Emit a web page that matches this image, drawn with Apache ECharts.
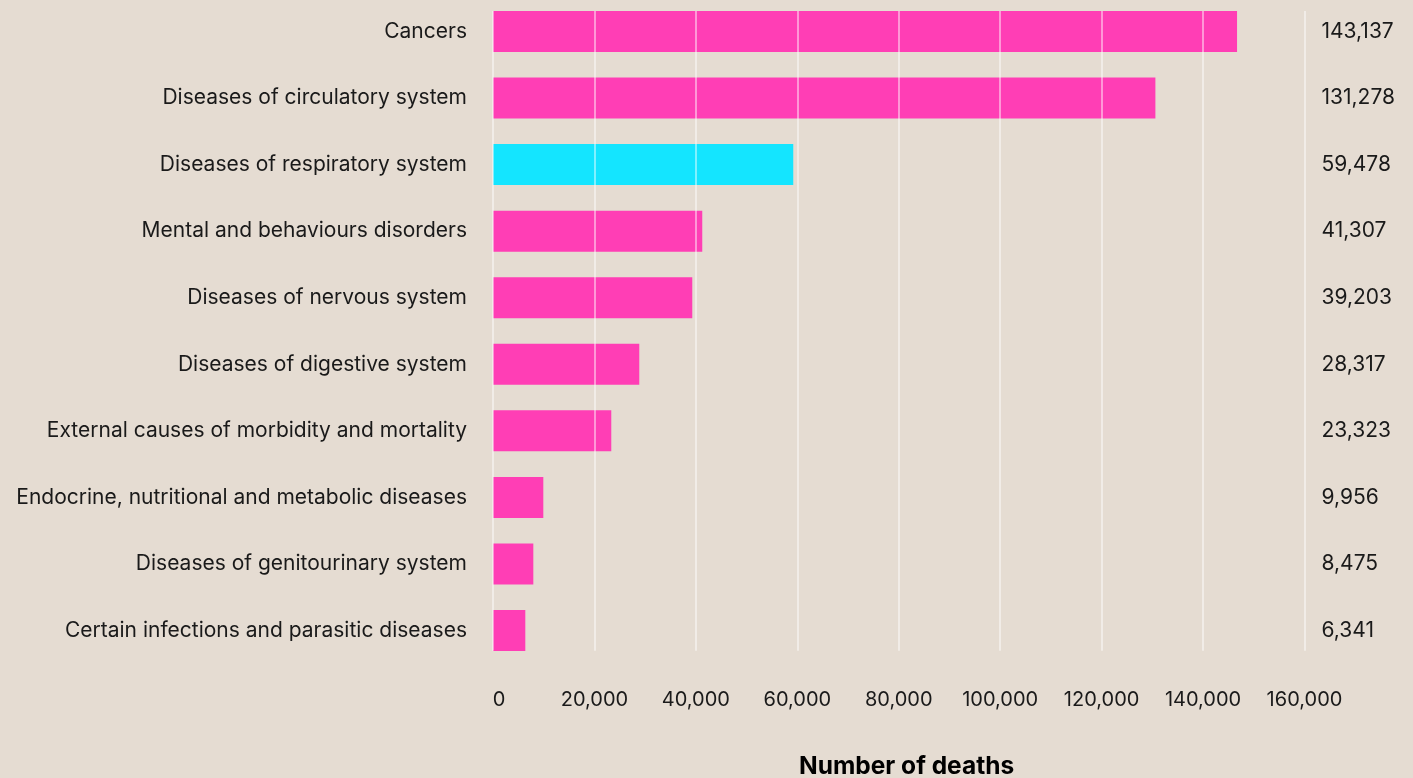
<!DOCTYPE html>
<html>
<head>
<meta charset="utf-8">
<script src="https://cdn.jsdelivr.net/npm/echarts@6/dist/echarts.min.js"></script>
<style>
html,body{margin:0;padding:0;background:#e5dcd2;overflow:hidden;}
#chart{width:1413px;height:780px;margin-top:-2px;}
</style>
</head>
<body>
<div id="chart"></div>
<script>
var categories = [
  'Cancers',
  'Diseases of circulatory system',
  'Diseases of respiratory system',
  'Mental and behaviours disorders',
  'Diseases of nervous system',
  'Diseases of digestive system',
  'External causes of morbidity and mortality',
  'Endocrine, nutritional and metabolic diseases',
  'Diseases of genitourinary system',
  'Certain infections and parasitic diseases'
];
// bar lengths as drawn in the reference
var barValues = [146700, 130600, 59200, 41260, 39290, 28840, 23320, 9920, 7950, 6370];
// value labels printed on the right
var valueLabels = ['143,137', '131,278', '59,478', '41,307', '39,203', '28,317', '23,323', '9,956', '8,475', '6,341'];
var xTicks = [0, 20000, 40000, 60000, 80000, 100000, 120000, 140000, 160000];
var highlightCategory = 'Diseases of respiratory system';
var axisTitle = 'Number of deaths';

var FONT = 'Inter, "Liberation Sans", sans-serif';
var PINK = '#ff3eb5';
var CYAN = '#14e5ff';
var TEXT = '#1a1a1a';

var chart = echarts.init(document.getElementById('chart'), null, {renderer: 'canvas'});
var L = 493, R = 1413 - 1304.5;
var OFF = 2; // div is shifted up by 2px

chart.setOption({
  backgroundColor: '#e5dcd2',
  animation: false,
  grid: [
    {left: L, right: R, top: OFF - 1.8, height: 665.6, containLabel: false},
    {left: L, right: R, top: OFF + 11, height: 639.7, containLabel: false}
  ],
  xAxis: [
    {gridIndex: 0, type: 'value', min: 0, max: 160000, show: false},
    {gridIndex: 1, type: 'value', min: xTicks[0], max: xTicks[xTicks.length - 1],
     interval: xTicks[1] - xTicks[0], z: 3,
     axisLine: {show: false}, axisTick: {show: false},
     splitLine: {show: true, lineStyle: {color: 'rgba(255,255,255,0.62)', width: 1.5}},
     axisLabel: {
       margin: 39, color: TEXT, fontFamily: FONT, fontSize: 20,
       formatter: function (v) { return v === 0 ? '{z|0}' : echarts.format.addCommas(v); },
       rich: {z: {padding: [0, 0, 0, 12], fontFamily: FONT, fontSize: 20, color: TEXT}}
     }}
  ],
  yAxis: [
    {gridIndex: 0, type: 'category', data: categories, inverse: true,
     axisLine: {show: false}, axisTick: {show: false}, splitLine: {show: false},
     axisLabel: {margin: 26, color: TEXT, fontFamily: FONT, fontSize: 21}},
    {gridIndex: 0, type: 'category', data: valueLabels, inverse: true, position: 'right',
     axisLine: {show: false}, axisTick: {show: false}, splitLine: {show: false},
     axisLabel: {margin: 17, color: TEXT, fontFamily: FONT, fontSize: 21, align: 'left'}},
    {gridIndex: 1, type: 'value', show: false}
  ],
  graphic: [{
    type: 'text', left: 799, top: OFF + 754,
    style: {text: axisTitle, fill: '#000', font: 'bold 24.5px ' + FONT}
  }],
  series: [{
    type: 'bar',
    xAxisIndex: 0, yAxisIndex: 0,
    barCategoryGap: '38.4%',
    data: barValues,
    itemStyle: {
      color: function (p) { return categories[p.dataIndex] === highlightCategory ? CYAN : PINK; }
    }
  }]
});
</script>
</body>
</html>
